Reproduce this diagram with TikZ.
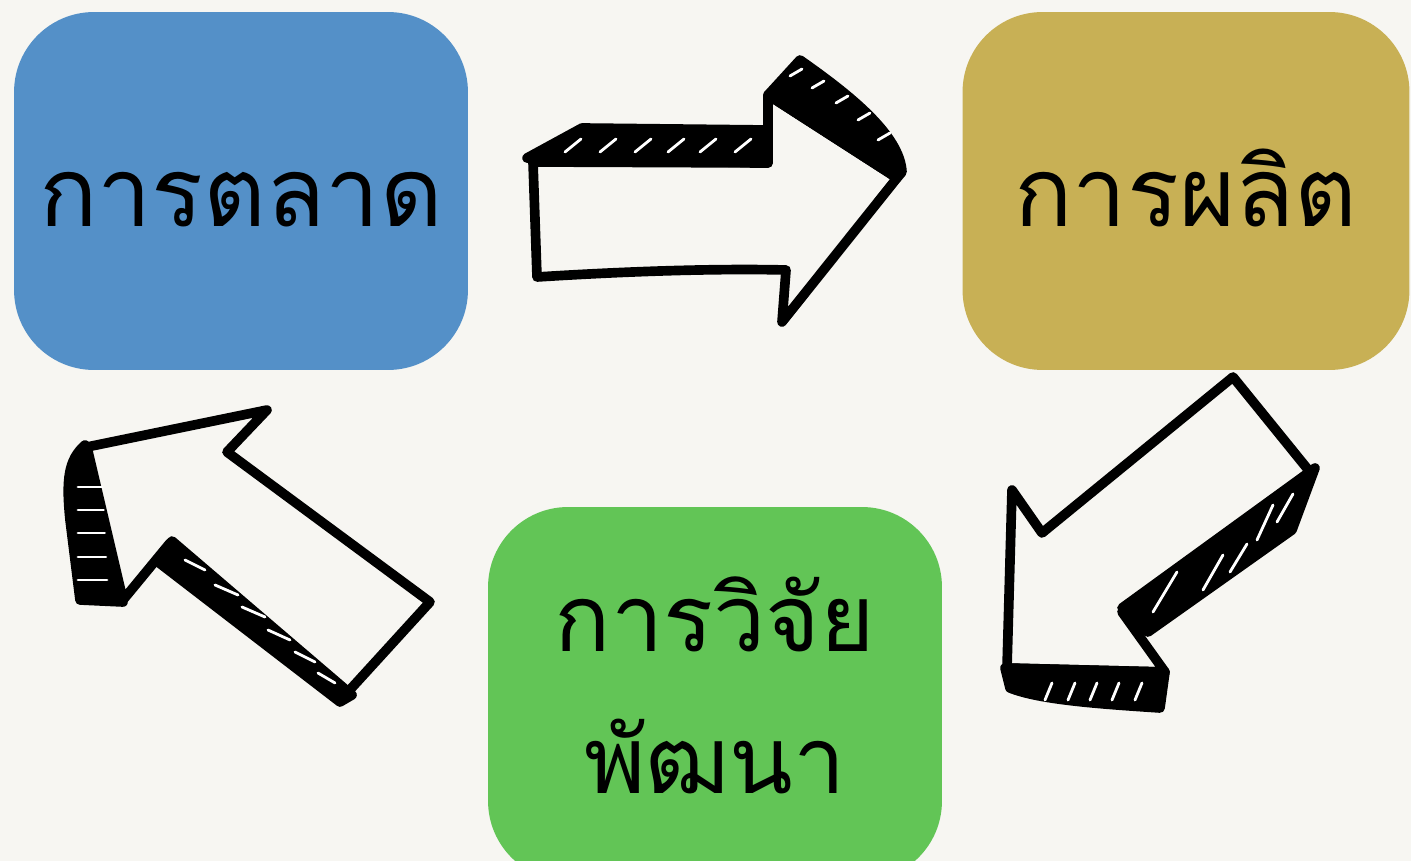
\documentclass[tikz,border=0pt]{standalone}
\usepackage{fontspec}
\newfontfamily\thaifont[Script=Thai]{Loma}
\usetikzlibrary{positioning}
\definecolor{paper}{RGB}{247,246,242}
\definecolor{mktblue}{RGB}{84,144,200}
\definecolor{prodgold}{RGB}{200,176,85}
\definecolor{rdgreen}{RGB}{98,197,86}
\tikzset{
  stage/.style={rectangle, rounded corners=1.6cm, minimum width=9.08cm, minimum height=7.16cm,
    inner sep=0pt, text centered, font=\thaifont\fontsize{55}{66}\selectfont},
  sketch/.style={draw=black, line width=5.5pt, line join=round, line cap=round, fill=paper},
  hatch/.style={draw=black, line width=5.5pt, line join=round, line cap=round, fill=black},
  streak/.style={white, line width=1.6pt, line cap=round}
}
\begin{document}
\begin{tikzpicture}[x=0.02cm, y=-0.02cm]
  \fill[paper] (0,0) rectangle (1411,861);
  \useasboundingbox (0,0) rectangle (1411,861);
  \clip (0,0) rectangle (1411,861);

  \node[stage, fill=mktblue, text height=1.44cm, text depth=0pt] (market) at (241,191) {การตลาด};
  \node[stage, fill=prodgold, minimum width=8.94cm, text height=1.44cm, text depth=0pt] (produce) at (1186,191) {การผลิต};
  \node[stage, fill=rdgreen, minimum height=7.48cm, align=center,
        font=\thaifont\fontsize{53}{81}\selectfont] (research) at (715,694) {การวิจัย\\พัฒนา\rule[-0.36cm]{0pt}{0pt}};

  % arrow market -> produce
  \filldraw[sketch] (533,162) -- (768,163) -- (768,95) -- (897,178) -- (782,322) -- (786,270)
    .. controls (700,268) and (600,273) .. (537,277) -- cycle;
  \filldraw[hatch] (527,158) -- (582,128) -- (768,130) -- (768,163) -- cycle;
  \filldraw[hatch] (768,95) -- (800,60) .. controls (850,95) and (900,135) .. (902,172) -- (897,178) -- cycle;
  \foreach \x in {565,600,635,668,700,735}
    \draw[streak] (\x,152) -- ({\x+16},139);
  \foreach \x/\y in {790/76,812/88,836/103,858/120,878/140}
    \draw[streak] (\x,\y) -- ({\x+12},{\y-7});

  % arrow produce -> research
  \filldraw[sketch] (1233,377) -- (1042,533) -- (1012,490) -- (1007,668) -- (1165,672) -- (1122,612)
    -- (1310,472) -- cycle;
  \filldraw[hatch] (1122,608) -- (1315,468) -- (1292,530) -- (1148,632) -- cycle;
  \filldraw[hatch] (1005,668) -- (1165,672) -- (1160,708) .. controls (1100,704) and (1040,700) .. (1010,688) -- cycle;
  \foreach \a/\b/\c/\d in {1153/612/1177/572,1203/590/1223/555,1230/572/1247/544,1257/540/1273/505,1277/522/1293/494}
    \draw[streak] (\a,\b) -- (\c,\d);
  \foreach \x in {1045,1068,1090,1112,1135}
    \draw[streak] (\x,700) -- ({\x+7},683);

  % arrow research -> market
  \filldraw[sketch] (87,447) -- (267,410) -- (227,452) -- (430,602) -- (347,693) -- (170,543)
    -- (123,600) -- cycle;
  \filldraw[hatch] (85,445) .. controls (68,460) and (66,480) .. (70,520) -- (80,600) -- (123,602) -- cycle;
  \filldraw[hatch] (172,541) -- (352,695) -- (340,702) -- (158,562) -- cycle;
  \foreach \y in {487,510,533,557,580}
    \draw[streak] (78,\y) -- ({\y/20+78},\y);
  \foreach \a/\b/\c/\d in {185/560/205/570,215/585/238/595,242/607/265/617,268/630/290/640,295/652/315/662,318/673/335/683}
    \draw[streak] (\a,\b) -- (\c,\d);
\end{tikzpicture}
\end{document}
